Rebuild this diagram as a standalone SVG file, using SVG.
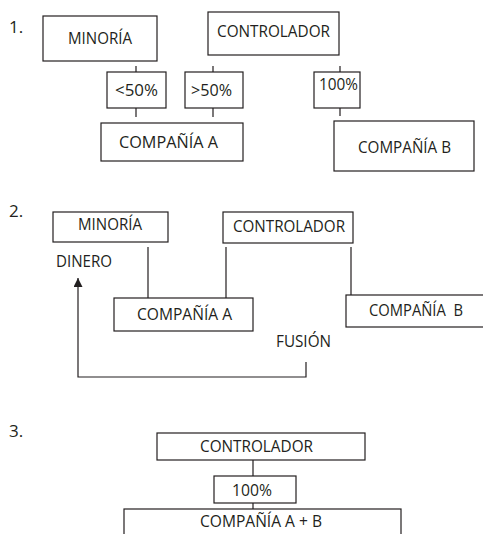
<svg xmlns="http://www.w3.org/2000/svg" width="483" height="534" viewBox="0 0 483 534">
<defs>
<style>
.b{fill:#fff;stroke:#231f20;stroke-width:1.2}
.l{fill:none;stroke:#231f20;stroke-width:1.2}
.t{font-family:"Open Sans","Noto Sans",sans-serif;font-size:16.5px;fill:#231f20;text-anchor:middle}
.n{font-family:"Open Sans","Noto Sans",sans-serif;font-size:17px;fill:#231f20}
.s{font-family:"Open Sans","Noto Sans",sans-serif;font-size:16.5px;fill:#231f20}
</style>
<marker id="ah" viewBox="0 0 10 10" refX="10" refY="5" markerWidth="9" markerHeight="9" markerUnits="userSpaceOnUse" orient="auto">
<path d="M0,0 L10,5 L0,10 z" fill="#231f20"/>
</marker>
</defs>
<rect width="483" height="534" fill="#fff"/>
<g id="labels">
<text class="n" x="9" y="33">1.</text>
<text class="n" x="9" y="217">2.</text>
<text class="n" x="9" y="437">3.</text>
</g>
<g id="connectors">
<path class="l" d="M136,66V72M213,66V72M340,66V72M136,108V117M213,108V117M340,108V116"/>
<path class="l" d="M148,247V298M226,247V298M351,247V297"/>
<path class="l" d="M306,362V377H78V278" marker-end="url(#ah)"/>
<path class="l" d="M253,460V476M253,503V509"/>
</g>
<g id="s1-minoria"><rect class="b" x="43" y="16" width="114" height="45"/><text class="t" x="100" y="44" textLength="64" lengthAdjust="spacingAndGlyphs">MINORÍA</text></g>
<g id="s1-controlador"><rect class="b" x="208" y="12" width="131" height="43"/><text class="t" x="273.5" y="37" textLength="113" lengthAdjust="spacingAndGlyphs">CONTROLADOR</text></g>
<g id="s1-lt50"><rect class="b" x="107" y="72" width="59" height="36"/><text class="t" x="136.5" y="96" textLength="43" lengthAdjust="spacingAndGlyphs">&lt;50%</text></g>
<g id="s1-gt50"><rect class="b" x="185" y="72" width="58" height="36"/><text class="t" x="211.5" y="96" textLength="41" lengthAdjust="spacingAndGlyphs">&gt;50%</text></g>
<g id="s1-100"><rect class="b" x="314" y="72" width="46" height="36"/><text class="t" x="338.5" y="90" textLength="39" lengthAdjust="spacingAndGlyphs">100%</text></g>
<g id="s1-compania-a"><rect class="b" x="101" y="123" width="142" height="38"/><text class="t" x="168.5" y="148" textLength="99" lengthAdjust="spacingAndGlyphs">COMPAÑÍA A</text></g>
<g id="s1-compania-b"><rect class="b" x="334" y="121" width="140" height="50"/><text class="t" x="404.5" y="153" textLength="93" lengthAdjust="spacingAndGlyphs">COMPAÑÍA B</text></g>
<g id="s2-minoria"><rect class="b" x="53" y="212" width="115" height="30"/><text class="t" x="110" y="230" textLength="64" lengthAdjust="spacingAndGlyphs">MINORÍA</text></g>
<g id="s2-controlador"><rect class="b" x="223" y="212" width="130" height="31"/><text class="t" x="289" y="232" textLength="112" lengthAdjust="spacingAndGlyphs">CONTROLADOR</text></g>
<g id="s2-dinero"><text class="s" x="56" y="267" textLength="56" lengthAdjust="spacingAndGlyphs">DINERO</text></g>
<g id="s2-compania-a"><rect class="b" x="114" y="298" width="139" height="33"/><text class="t" x="184.5" y="320" textLength="95" lengthAdjust="spacingAndGlyphs">COMPAÑÍA A</text></g>
<g id="s2-compania-b"><rect class="b" x="346" y="295" width="150" height="32"/><text class="s" x="369" y="316" textLength="94" lengthAdjust="spacingAndGlyphs" xml:space="preserve">COMPAÑÍA  B</text></g>
<g id="s2-fusion"><text class="s" x="276" y="347" textLength="55" lengthAdjust="spacingAndGlyphs">FUSIÓN</text></g>
<g id="s3-controlador"><rect class="b" x="157" y="433" width="208" height="27"/><text class="t" x="256.5" y="452" textLength="113" lengthAdjust="spacingAndGlyphs">CONTROLADOR</text></g>
<g id="s3-100"><rect class="b" x="214" y="476" width="82" height="27"/><text class="t" x="252" y="496" textLength="40" lengthAdjust="spacingAndGlyphs">100%</text></g>
<g id="s3-compania-ab"><rect class="b" x="124" y="509" width="277" height="40"/><text class="t" x="261" y="527" textLength="122" lengthAdjust="spacingAndGlyphs">COMPAÑÍA A + B</text></g>
</svg>
